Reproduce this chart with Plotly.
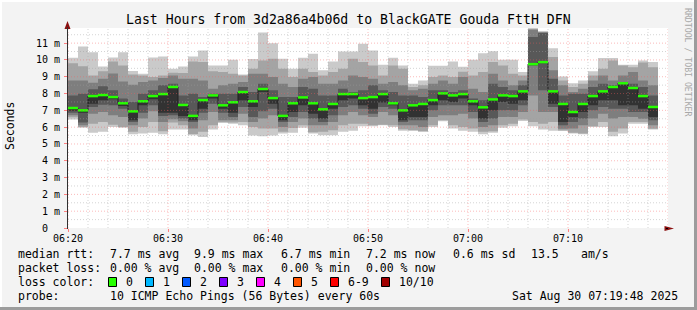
import plotly.graph_objects as go
from datetime import datetime, timedelta

# ---------------- data (ms) ----------------
median = [7.14, 7.00, 7.85, 7.91, 7.79, 7.42, 6.94, 7.54, 7.85, 7.97, 8.39, 7.32, 6.67, 7.61, 7.89,
          7.30, 7.48, 8.09, 7.54, 8.27, 7.73, 6.67, 7.42, 7.77, 7.42, 7.06, 7.38, 7.97, 7.97, 7.73,
          7.79, 7.97, 7.42, 7.00, 7.30, 7.38, 7.61, 8.01, 7.89, 7.97, 7.54, 7.18, 7.65, 7.89, 7.85,
          8.13, 9.75, 9.87, 8.13, 7.38, 6.90, 7.38, 7.85, 8.13, 8.39, 8.61, 8.33, 7.85, 7.20]
ping10 = [10.13, 10.80, 10.46, 9.61, 10.15, 10.46, 9.34, 9.18, 10.15, 10.21, 9.48, 9.61, 10.21, 10.56, 9.67,
          9.67, 10.01, 9.14, 10.05, 11.63, 11.00, 10.07, 9.48, 10.13, 10.37, 9.38, 9.91, 10.50, 10.50, 10.96,
          10.56, 9.71, 10.13, 9.67, 8.59, 8.78, 9.65, 9.65, 9.91, 9.60, 10.01, 10.40, 10.52, 10.01, 10.01,
          9.28, 11.89, 11.71, 10.70, 9.02, 8.62, 8.78, 9.32, 10.11, 10.11, 9.71, 9.71, 9.97, 9.87]
ping9 = [9.81, 9.63, 9.08, 9.32, 9.91, 9.67, 9.14, 9.08, 8.98, 9.08, 9.24, 9.22, 9.91, 9.87, 9.32,
         9.28, 9.18, 9.08, 9.48, 9.97, 10.07, 9.48, 8.98, 9.48, 9.28, 9.08, 9.28, 9.48, 10.07, 9.87,
         9.67, 9.08, 9.67, 9.48, 8.39, 8.49, 8.98, 9.08, 8.98, 9.30, 9.08, 9.28, 9.87, 9.67, 9.18,
         9.08, 11.85, 11.68, 10.17, 8.78, 8.39, 8.59, 9.08, 9.48, 9.97, 9.67, 9.57, 9.85, 9.57]
ping8 = [8.78, 8.78, 8.64, 8.88, 9.20, 8.72, 8.53, 8.68, 8.78, 8.92, 9.08, 8.88, 8.88, 8.78, 8.29,
         8.49, 8.59, 8.68, 9.18, 9.18, 8.98, 8.59, 8.39, 8.88, 8.98, 8.59, 8.59, 8.78, 9.08, 8.98,
         8.88, 8.59, 8.68, 8.49, 8.19, 8.29, 8.59, 8.78, 8.59, 8.98, 8.29, 8.09, 9.18, 8.78, 8.49,
         8.78, 11.80, 11.65, 9.38, 8.49, 8.09, 8.29, 8.78, 9.08, 8.78, 9.08, 9.28, 8.78, 8.49]
ping7 = [7.89, 7.99, 8.25, 8.43, 8.19, 7.70, 7.50, 7.99, 8.19, 8.49, 8.59, 7.89, 7.99, 7.79, 7.99,
         7.99, 7.99, 8.39, 8.09, 8.59, 8.19, 7.79, 7.79, 8.39, 8.29, 7.89, 7.89, 8.29, 8.09, 8.19,
         8.49, 8.19, 8.09, 7.89, 7.89, 7.79, 8.19, 8.19, 8.09, 8.19, 7.70, 7.60, 8.59, 8.39, 8.19,
         8.49, 11.36, 11.60, 8.88, 7.89, 7.99, 7.99, 8.39, 8.59, 8.49, 8.68, 8.59, 8.39, 7.89]
ping5 = [6.98, 6.86, 7.40, 7.60, 7.66, 7.26, 6.41, 7.30, 7.66, 6.86, 6.86, 6.67, 6.41, 7.10, 7.70,
         7.10, 6.86, 7.60, 7.20, 8.09, 7.40, 6.41, 6.90, 7.30, 6.80, 6.51, 7.10, 7.60, 7.70, 7.30,
         7.10, 7.46, 7.30, 6.41, 6.61, 6.61, 7.30, 7.60, 7.50, 7.70, 7.30, 6.51, 7.00, 7.50, 7.40,
         7.60, 9.70, 9.80, 7.40, 6.31, 6.61, 6.90, 7.30, 7.60, 7.60, 7.30, 7.30, 7.10, 6.61]
ping4 = [6.86, 6.27, 7.20, 7.34, 7.30, 7.10, 6.31, 6.86, 7.30, 6.67, 6.71, 6.51, 6.31, 6.86, 7.40,
         6.86, 6.61, 7.20, 6.61, 6.94, 7.10, 6.31, 6.61, 6.90, 6.51, 6.31, 6.71, 7.20, 7.30, 7.10,
         6.80, 7.20, 7.10, 6.31, 6.41, 6.41, 7.00, 7.30, 7.30, 7.30, 6.90, 6.31, 6.51, 7.00, 7.00,
         7.30, 9.65, 8.19, 7.20, 6.11, 6.31, 6.51, 7.00, 7.20, 7.10, 7.10, 6.90, 6.90, 6.41]
ping3 = [6.71, 6.11, 6.80, 6.90, 6.71, 6.61, 6.11, 6.51, 6.94, 6.31, 6.47, 6.35, 5.92, 6.41, 6.90,
         6.41, 6.41, 6.80, 6.31, 6.51, 6.71, 6.01, 6.31, 6.51, 6.11, 6.11, 6.31, 6.71, 6.90, 6.71,
         6.61, 6.90, 6.71, 6.11, 6.11, 6.01, 6.61, 6.71, 6.71, 6.80, 6.51, 6.01, 6.11, 6.61, 6.61,
         6.90, 7.89, 6.90, 6.90, 5.90, 5.92, 6.11, 6.51, 6.80, 6.51, 6.61, 6.61, 6.50, 6.11]
ping2 = [6.59, 6.01, 6.21, 6.31, 6.15, 6.01, 5.72, 6.01, 6.31, 5.76, 6.27, 6.11, 5.60, 5.72, 6.11,
         6.30, 6.27, 6.31, 6.01, 5.92, 5.92, 5.72, 5.95, 6.11, 5.70, 5.72, 5.82, 6.11, 6.21, 6.21,
         6.11, 6.15, 6.11, 5.88, 5.82, 5.76, 6.11, 6.41, 6.11, 6.01, 5.92, 5.72, 5.76, 6.11, 6.21,
         6.45, 6.31, 6.20, 6.31, 5.80, 5.66, 5.62, 6.05, 6.31, 5.72, 5.92, 6.30, 6.30, 5.90]
ping1 = [6.45, 5.97, 5.66, 5.72, 6.01, 5.97, 5.58, 5.62, 5.66, 5.58, 5.86, 5.86, 5.52, 5.42, 5.86,
         6.25, 6.20, 6.11, 5.50, 5.46, 5.50, 5.62, 5.66, 5.97, 5.62, 5.52, 5.52, 5.72, 5.78, 6.05,
         6.05, 6.11, 6.01, 5.78, 5.78, 5.72, 6.01, 6.35, 5.92, 5.78, 5.72, 5.58, 5.66, 5.97, 6.05,
         6.37, 6.05, 5.86, 5.78, 5.78, 5.62, 5.58, 6.01, 6.01, 5.46, 5.62, 6.21, 6.21, 5.86]

y_ticks = [0, 1, 2, 3, 4, 5, 6, 7, 8, 9, 10, 11]
y_tick_labels = ["0\u00a0\u00a0", "1 m", "2 m", "3 m", "4 m", "5 m", "6 m", "7 m", "8 m", "9 m", "10 m", "11 m"]
x_tick_labels = ["06:20", "06:30", "06:40", "06:50", "07:00", "07:10"]

title = "Last Hours from 3d2a86a4b06d to BlackGATE Gouda FttH DFN"
rtt_label = "median rtt:"
rtt_stats = ["7.7 ms avg", "9.9 ms max", "6.7 ms min", "7.2 ms now", "0.6 ms sd", "13.5", "am/s"]
loss_label = "packet loss:"
loss_stats = ["0.00 % avg", "0.00 % max", "0.00 % min", "0.00 % now"]
loss_color_labels = ["0", "1", "2", "3", "4", "5", "6-9", "10/10"]
loss_colors = ["#26ff00", "#00b8ff", "#0059ff", "#7e00ff", "#ff00ff", "#ff5500", "#ff0000", "#a10000"]
probe_text = "10 ICMP Echo Pings (56 Bytes) every 60s"
stamp = "Sat Aug 30 07:19:48 2025"

# ---------------- layout geometry ----------------
W, H = 697, 310
L, R, T, B = 68, 29, 28, 82
PW, PH = W - L - R, H - T - B
Y_MAX = 11.9
MONO = "DejaVu Sans Mono"

start = datetime(2025, 8, 30, 6, 20, 0)
end = start + timedelta(minutes=60)
n = len(median)
times = [start + timedelta(minutes=k) for k in range(n + 1)]


def px(x):
    return (x - L) / PW


def py(y):
    return (H - B - y) / PH


fig = go.Figure()

bands = [(ping1, ping10, "#cacaca"), (ping2, ping9, "#a4a4a4"), (ping3, ping8, "#7e7e7e"),
         (ping4, ping7, "#585858"), (ping5, median, "#323232")]
for lo, hi, col in bands:
    fig.add_trace(go.Scatter(x=times, y=lo + [lo[-1]], mode="lines", line=dict(width=0, shape="hv"),
                             hoverinfo="skip", showlegend=False))
    fig.add_trace(go.Scatter(x=times, y=hi + [hi[-1]], mode="lines", line=dict(width=0, shape="hv"),
                             fill="tonexty", fillcolor=col, hoverinfo="skip", showlegend=False))

fig.add_trace(go.Scatter(x=times, y=median + [median[-1]], mode="lines",
                         line=dict(width=1, shape="hv", color="#202020"),
                         hoverinfo="skip", showlegend=False))

gx, gy = [], []
for k in range(n):
    gx += [times[k], times[k + 1], None]
    gy += [median[k], median[k], None]
fig.add_trace(go.Scatter(x=gx, y=gy, mode="lines", line=dict(width=2.5, color="#26ff00"),
                         hoverinfo="skip", showlegend=False))

shapes = []
# grid above data (like rrdtool)
minor_col = "rgba(160,160,160,0.45)"
major_col = "rgba(245,90,90,0.42)"
for m in range(0, 61, 2):
    t = start + timedelta(minutes=m)
    major = (m % 10 == 0)
    shapes.append(dict(type="line", xref="x", yref="paper", x0=t, x1=t, y0=0, y1=1, layer="above",
                       line=dict(color=major_col if major else minor_col, width=1, dash="1px,2px")))
for j in range(1, 24):
    v = j * 0.5
    major = (j % 2 == 0)
    shapes.append(dict(type="line", xref="paper", yref="y", x0=0, x1=1, y0=v, y1=v, layer="above",
                       line=dict(color=major_col if major else minor_col, width=1, dash="1px,2px")))

# axis arrows
shapes.append(dict(type="path", xref="paper", yref="paper", layer="above",
                   path=f"M {px(664.5)} {py(226)} L {px(674)} {py(228.5)} L {px(664.5)} {py(231)} Z",
                   fillcolor="#8b1010", line=dict(width=0)))
shapes.append(dict(type="path", xref="paper", yref="paper", layer="above",
                   path=f"M {px(64.5)} {py(29)} L {px(67.5)} {py(21)} L {px(70.5)} {py(29)} Z",
                   fillcolor="#8b1010", line=dict(width=0)))
shapes.append(dict(type="line", xref="paper", yref="paper", layer="above",
                   x0=1, x1=px(666), y0=py(228.5), y1=py(228.5), line=dict(color="black", width=1)))
shapes.append(dict(type="line", xref="paper", yref="paper", layer="above",
                   x0=px(67.5), x1=px(67.5), y0=py(27), y1=py(229), line=dict(color="#303030", width=1)))

# frame border (3D look)
shapes.append(dict(type="rect", xref="paper", yref="paper", x0=px(W - 3), x1=px(W), y0=py(0), y1=py(H),
                   fillcolor="#9c9c9c", line=dict(width=0), layer="below"))
shapes.append(dict(type="rect", xref="paper", yref="paper", x0=px(0), x1=px(W), y0=py(H - 3), y1=py(H),
                   fillcolor="#9c9c9c", line=dict(width=0), layer="below"))
shapes.append(dict(type="rect", xref="paper", yref="paper", x0=px(0), x1=px(W - 3), y0=py(0), y1=py(2),
                   fillcolor="#ffffff", line=dict(width=0), layer="below"))
shapes.append(dict(type="rect", xref="paper", yref="paper", x0=px(0), x1=px(2), y0=py(0), y1=py(H - 3),
                   fillcolor="#ffffff", line=dict(width=0), layer="below"))

annotations = []


def text(x, y, s, size=11.5, anchor="left", color="#000000", angle=0):
    annotations.append(dict(xref="paper", yref="paper", x=px(x), y=py(y), text=s, showarrow=False,
                            xanchor=anchor, yanchor="middle", textangle=angle,
                            font=dict(family=MONO, size=size, color=color)))


text(348, 19, title, size=13.2, anchor="center")
text(10, 126, "Seconds", size=11.5, anchor="center", angle=-90)
text(688, 62, "RRDTOOL / TOBI OETIKER", size=8.2, anchor="center", color="#a8a8a8", angle=90)

col_x = [107.6, 192.4, 279, 364, 451, 529, 579]
text(16, 254, rtt_label)
for x, s in zip(col_x, rtt_stats):
    text(x, 254, s)
text(16, 268, loss_label)
for x, s in zip(col_x, loss_stats):
    text(x, 268, s)
text(16, 282, "loss color:")
bx = 108
for lab, col in zip(loss_color_labels, loss_colors):
    shapes.append(dict(type="rect", xref="paper", yref="paper", x0=px(bx + 0.5), x1=px(bx + 8.5),
                       y0=py(277.5), y1=py(286.5), fillcolor=col, line=dict(color="#000000", width=1)))
    text(bx + 15.5, 282, lab)
    bx += 30 + 7 * len(lab)
text(16, 296, "probe:")
text(107.6, 296, probe_text)
text(680, 296, stamp, anchor="right")

fig.update_layout(
    width=W, height=H, margin=dict(l=L, r=R, t=T, b=B, pad=0),
    paper_bgcolor="#f3f3f3", plot_bgcolor="#ffffff",
    shapes=shapes, annotations=annotations, showlegend=False,
    xaxis=dict(type="date", range=[start, end], showgrid=False, zeroline=False, showline=False,
               tickvals=[start + timedelta(minutes=10 * i) for i in range(len(x_tick_labels))],
               ticktext=x_tick_labels, ticks="outside", ticklen=3, tickcolor="#ff8080",
               tickfont=dict(family=MONO, size=10, color="#000000"), ticklabelstandoff=-2, fixedrange=True),
    yaxis=dict(range=[0, Y_MAX], showgrid=False, zeroline=False, showline=False,
               tickvals=y_ticks, ticktext=y_tick_labels, ticks="outside", ticklen=3, tickcolor="#ff8080",
               tickfont=dict(family=MONO, size=10, color="#000000"), ticklabelstandoff=2, fixedrange=True),
)

fig.write_html("out.html")
